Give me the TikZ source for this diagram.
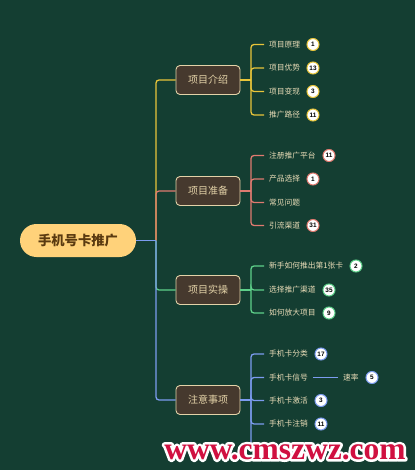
\documentclass[tikz,border=0pt]{standalone}
\usepackage{fontspec}
\setmainfont{Liberation Serif}
\newfontfamily\cjk{Noto Sans CJK SC}
\newfontfamily\numfont{Liberation Sans}

\definecolor{bg}{HTML}{143E32}
\definecolor{ylw}{HTML}{E8C53A}
\definecolor{rd}{HTML}{E07A70}
\definecolor{grn}{HTML}{5ED08A}
\definecolor{blu}{HTML}{7C9CF0}
\definecolor{rootfill}{HTML}{FFD27A}
\definecolor{roottext}{HTML}{5A3A10}
\definecolor{topicfill}{HTML}{46392E}
\definecolor{topicline}{HTML}{E3D2A8}
\definecolor{leaftext}{HTML}{EADDB8}
\definecolor{wmred}{HTML}{D01040}

\tikzset{
  root/.style={rounded corners=16.5pt, fill=rootfill, minimum width=116pt,
    minimum height=33pt, text=roottext, font=\cjk\bfseries\fontsize{13.3}{15}\selectfont},
  topic/.style={rounded corners=4pt, fill=topicfill, draw=topicline, line width=0.9pt,
    minimum width=64pt, minimum height=29pt, text=topicline,
    font=\cjk\fontsize{10}{12}\selectfont},
  leaf/.style={anchor=west, inner xsep=0pt, outer xsep=5pt, text=leaftext,
    font=\cjk\fontsize{7.75}{9}\selectfont},
  badge/.style={circle, fill=white, draw=#1, line width=1pt, minimum size=12pt,
    inner sep=0pt, text=black, font=\numfont\bfseries\fontsize{6.4}{7}\selectfont},
  branch/.style={line width=1.3pt, rounded corners=3pt},
  wmtext/.style={font=\bfseries\fontsize{31.5}{33}\selectfont, inner sep=0pt}
}

\begin{document}
\begin{tikzpicture}[x=1pt,y=-1pt]
  \fill[bg] (0,0) rectangle (415,470);

  \node[root] (root) at (78,240.5) {手机号卡推广};
  \coordinate (hub) at (156,240.5);

  \node[topic] (intro) at (208,80) {项目介绍};
  \node[topic] (prep) at (208,191) {项目准备};
  \node[topic] (prac) at (208,290) {项目实操};
  \node[topic] (note) at (208,400) {注意事项};

  \draw[branch,ylw] (hub) |- (intro.west);
  \draw[branch,rd] (hub) |- (prep.west);
  \draw[branch,grn] (hub) |- (prac.west);
  \draw[branch,blu] (hub) |- (note.west);
  \draw[branch,blu] (root.east) -- (hub);

  % 项目介绍
  \coordinate (introfork) at (251,80);
  \draw[branch,ylw] (intro.east) -- (introfork);
  \foreach \y/\t/\n [count=\i] in {44.5/项目原理/1, 68/项目优势/13, 91.5/项目变现/3, 115/推广路径/11}{
    \node[leaf] (i\i) at (264,\y) {\t};
    \draw[branch,ylw] (introfork) |- (i\i.west);
    \node[badge=ylw] (bi\i) at (313,\y) {\n};
  }

  % 项目准备
  \coordinate (prepfork) at (251,191);
  \draw[branch,rd] (prep.east) -- (prepfork);
  \foreach \y/\t/\bx/\n [count=\i] in {155.5/注册推广平台/329/11, 179/产品选择/313/1, 225.5/引流渠道/313/31}{
    \node[leaf] (p\i) at (264,\y) {\t};
    \draw[branch,rd] (prepfork) |- (p\i.west);
    \node[badge=rd] (bp\i) at (\bx,\y) {\n};
  }
  \node[leaf] (faq) at (264,202.5) {常见问题};
  \draw[branch,rd] (prepfork) |- (faq.west);

  % 项目实操
  \coordinate (pracfork) at (251,290);
  \draw[branch,grn] (prac.east) -- (pracfork);
  \foreach \y/\t/\bx/\n [count=\i] in {266/新手如何推出第1张卡/356/2, 290/选择推广渠道/329/35, 313/如何放大项目/329/9}{
    \node[leaf] (o\i) at (264,\y) {\t};
    \draw[branch,grn] (pracfork) |- (o\i.west);
    \node[badge=grn] (bo\i) at (\bx,\y) {\n};
  }

  % 注意事项
  \coordinate (notefork) at (251,400);
  \draw[branch,blu] (note.east) -- (notefork);
  \foreach \y/\t/\n [count=\i] in {354/手机卡分类/17, 400.5/手机卡激活/3, 424/手机卡注销/11}{
    \node[leaf] (n\i) at (264,\y) {\t};
    \draw[branch,blu] (notefork) |- (n\i.west);
    \node[badge=blu] (bn\i) at (321,\y) {\n};
  }
  \node[leaf] (signal) at (264,377.5) {手机卡信号};
  \draw[branch,blu] (notefork) |- (signal.west);
  \node[leaf] (rate) at (338,377.5) {速率};
  \draw[line width=1.3pt,blu] (signal.east) -- (rate.west);
  \node[badge=blu] (brate) at (372,377.5) {5};
  \coordinate (hidden) at (264,447);
  \draw[branch,blu] (notefork) |- (hidden);

  % watermark: white outline under the red letters
  \node[wmtext,text=white] (wmback) at (285,452)
    {\special{pdf:literal 2 Tr 5 w 1 j 1 1 1 RG}www.cmszwz.com\special{pdf:literal 0 Tr}};
  \node[wmtext,text=wmred] (wm) at (wmback) {www.cmszwz.com};
\end{tikzpicture}
\end{document}
